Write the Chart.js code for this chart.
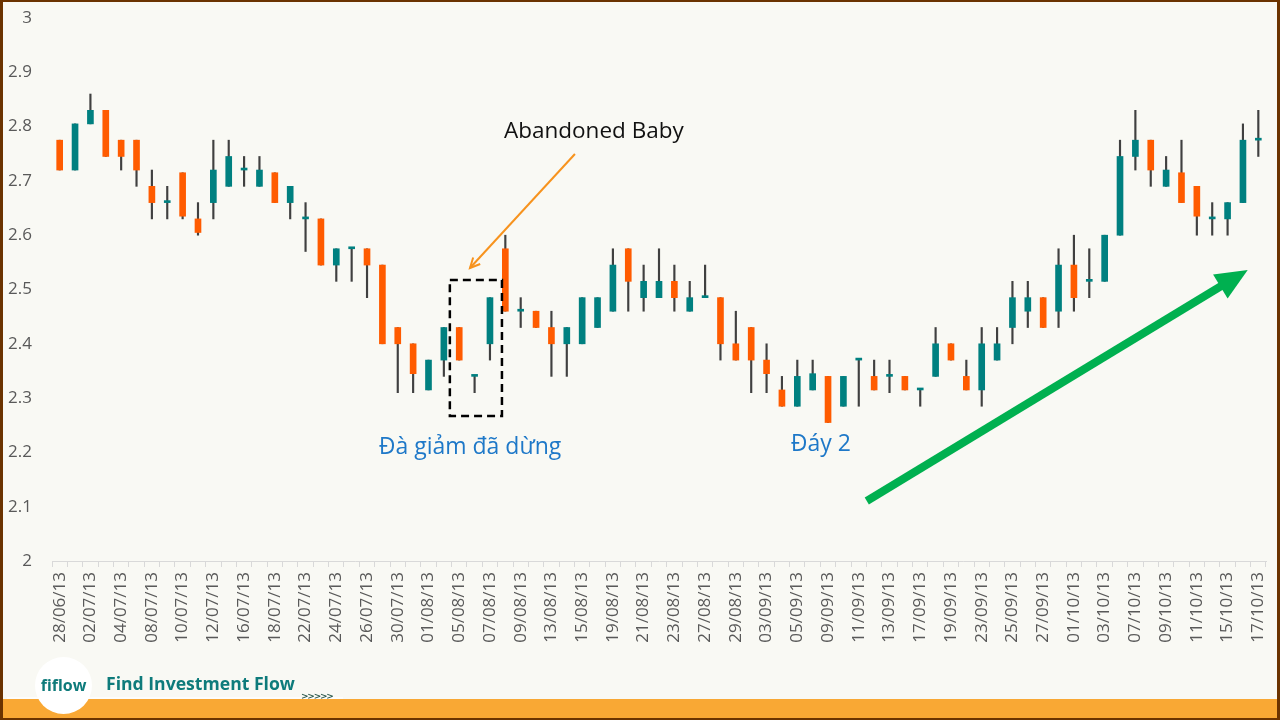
<!DOCTYPE html>
<html><head><meta charset="utf-8">
<script src="https://cdn.jsdelivr.net/npm/chart.js@4/dist/chart.umd.min.js"></script>
<style>
html,body{margin:0;padding:0;background:#F9F9F4;width:1280px;height:720px;overflow:hidden;}
#frame{position:absolute;left:0;top:0;width:1280px;height:720px;box-sizing:border-box;border:3px solid #6B3300;border-top-width:2px;border-bottom-width:2px;background:#F9F9F4;}
#c{position:absolute;left:0;top:0;}
#band{position:absolute;left:3px;right:3px;top:699px;height:19px;background:#F9A834;}
#pale{position:absolute;left:7px;width:336px;top:697px;height:2px;background:#ffffff;opacity:.7;}
#logo{position:absolute;left:35px;top:657px;width:57px;height:57px;border-radius:50%;background:#ffffff;display:flex;align-items:center;justify-content:center;font-family:"Open Sans",sans-serif;font-weight:700;font-size:16px;color:#0E7B7B;}
#logo span{position:relative;top:-1px;}
#brand{position:absolute;left:106px;top:671px;font-family:"Open Sans",sans-serif;font-weight:700;font-size:17.6px;color:#0E7B7B;white-space:nowrap;}
#chev{position:absolute;left:301px;top:691px;font-family:"DejaVu Sans",sans-serif;font-weight:700;font-size:9px;letter-spacing:-1.2px;color:#2E5B4F;}
</style></head>
<body>
<div id="frame"></div>
<canvas id="c" width="1280" height="720"></canvas>
<div id="pale"></div>
<div id="band"></div>
<div id="logo"><span>fiflow</span></div>
<div id="brand">Find Investment Flow</div>
<div id="chev">&gt;&gt;&gt;&gt;&gt;</div>
<script>
const dates = ["28/06/13","01/07/13","02/07/13","03/07/13","04/07/13","05/07/13","08/07/13","09/07/13","10/07/13","11/07/13",
"12/07/13","15/07/13","16/07/13","17/07/13","18/07/13","19/07/13","22/07/13","23/07/13","24/07/13","25/07/13",
"26/07/13","29/07/13","30/07/13","31/07/13","01/08/13","02/08/13","05/08/13","06/08/13","07/08/13","08/08/13",
"09/08/13","12/08/13","13/08/13","14/08/13","15/08/13","16/08/13","19/08/13","20/08/13","21/08/13","22/08/13",
"23/08/13","26/08/13","27/08/13","28/08/13","29/08/13","30/08/13","03/09/13","04/09/13","05/09/13","06/09/13",
"09/09/13","10/09/13","11/09/13","12/09/13","13/09/13","16/09/13","17/09/13","18/09/13","19/09/13","20/09/13",
"23/09/13","24/09/13","25/09/13","26/09/13","27/09/13","30/09/13","01/10/13","02/10/13","03/10/13","04/10/13",
"07/10/13","08/10/13","09/10/13","10/10/13","11/10/13","14/10/13","15/10/13","16/10/13","17/10/13"];

const openP  = [2.775,2.72,2.805,2.83,2.775,2.775,2.69,2.66,2.715,2.63,
2.66,2.69,2.72,2.69,2.715,2.66,2.63,2.63,2.545,2.575,
2.575,2.545,2.43,2.40,2.315,2.37,2.43,2.34,2.40,2.575,
2.46,2.46,2.43,2.40,2.40,2.43,2.46,2.575,2.485,2.485,
2.515,2.46,2.485,2.485,2.40,2.43,2.37,2.315,2.285,2.315,
2.34,2.285,2.37,2.34,2.34,2.34,2.315,2.34,2.40,2.34,
2.315,2.37,2.43,2.46,2.485,2.46,2.545,2.515,2.515,2.60,
2.745,2.775,2.69,2.715,2.69,2.63,2.63,2.66,2.775];
const highP  = [2.775,2.805,2.86,2.83,2.775,2.775,2.72,2.69,2.715,2.66,
2.775,2.775,2.745,2.745,2.715,2.69,2.66,2.63,2.575,2.575,
2.575,2.545,2.43,2.40,2.37,2.43,2.43,2.34,2.485,2.60,
2.485,2.46,2.46,2.43,2.485,2.485,2.575,2.575,2.545,2.575,
2.545,2.515,2.545,2.485,2.46,2.43,2.40,2.34,2.37,2.37,
2.34,2.34,2.37,2.37,2.37,2.34,2.315,2.43,2.40,2.37,
2.43,2.43,2.515,2.515,2.485,2.575,2.60,2.575,2.60,2.775,
2.83,2.775,2.745,2.775,2.69,2.66,2.66,2.805,2.83];
const lowP   = [2.72,2.72,2.805,2.745,2.72,2.69,2.63,2.63,2.63,2.60,
2.63,2.69,2.69,2.69,2.66,2.63,2.57,2.545,2.515,2.515,
2.485,2.40,2.31,2.31,2.315,2.34,2.37,2.31,2.37,2.46,
2.43,2.43,2.34,2.34,2.40,2.43,2.46,2.46,2.46,2.485,
2.46,2.46,2.485,2.37,2.37,2.31,2.31,2.285,2.285,2.315,
2.255,2.285,2.285,2.315,2.31,2.315,2.285,2.34,2.37,2.315,
2.285,2.37,2.40,2.43,2.43,2.43,2.46,2.485,2.515,2.60,
2.72,2.69,2.69,2.66,2.60,2.60,2.60,2.66,2.745];
const closeP = [2.72,2.805,2.83,2.745,2.745,2.72,2.66,2.66,2.635,2.605,
2.72,2.745,2.72,2.72,2.66,2.69,2.63,2.545,2.575,2.575,
2.545,2.40,2.40,2.345,2.37,2.43,2.37,2.34,2.485,2.46,
2.46,2.43,2.40,2.43,2.485,2.485,2.545,2.515,2.515,2.515,
2.485,2.485,2.485,2.40,2.37,2.37,2.345,2.285,2.34,2.345,
2.255,2.34,2.37,2.315,2.34,2.315,2.315,2.40,2.37,2.315,
2.40,2.40,2.485,2.485,2.43,2.545,2.485,2.515,2.60,2.745,
2.775,2.72,2.72,2.66,2.635,2.63,2.66,2.775,2.775];

const yTicks = {min:2, max:3, step:0.1};
const UP = '#008080', DOWN = '#FF5B00', WICK = '#404040';

const bodies = openP.map((o,i)=>[o, closeP[i]]);
const wicks = lowP.map((l,i)=>[l, highP[i]]);
const bodyColors = openP.map((o,i)=> closeP[i] < o ? DOWN : UP);

const annot = {
  id:'annot',
  afterDatasetsDraw(chart){
    const {ctx, scales:{x,y}} = chart;
    const P = (i,v)=>[x.getPixelForValue(i), y.getPixelForValue(v)];
    ctx.save();
    // dashed box
    const [bx1,by1] = P(25.39, 2.5175), [bx2,by2] = P(28.78, 2.267);
    ctx.strokeStyle = '#000'; ctx.lineWidth = 2.5; ctx.setLineDash([8,5]);
    ctx.strokeRect(bx1, by1, bx2-bx1, by2-by1);
    ctx.setLineDash([]);
    // orange arrow
    const [ax1,ay1] = P(33.53, 2.7495), [ax2,ay2] = P(26.7, 2.5396);
    ctx.strokeStyle = '#F7931E'; ctx.lineWidth = 2;
    ctx.beginPath(); ctx.moveTo(ax1,ay1); ctx.lineTo(ax2,ay2); ctx.stroke();
    let ang = Math.atan2(ay2-ay1, ax2-ax1);
    ctx.beginPath();
    ctx.moveTo(ax2 - 11*Math.cos(ang-0.45), ay2 - 11*Math.sin(ang-0.45));
    ctx.lineTo(ax2, ay2);
    ctx.lineTo(ax2 - 11*Math.cos(ang+0.45), ay2 - 11*Math.sin(ang+0.45));
    ctx.stroke();
    // green arrow
    const [gx1,gy1] = P(52.52, 2.1105), [gx2,gy2] = P(77.31, 2.536);
    ang = Math.atan2(gy2-gy1, gx2-gx1);
    const hl = 32, hw = 14;
    const bxm = gx2 - hl*Math.cos(ang), bym = gy2 - hl*Math.sin(ang);
    ctx.strokeStyle = '#00B050'; ctx.fillStyle = '#00B050'; ctx.lineWidth = 8;
    ctx.beginPath(); ctx.moveTo(gx1,gy1); ctx.lineTo(bxm + 2*Math.cos(ang), bym + 2*Math.sin(ang)); ctx.stroke();
    ctx.beginPath();
    ctx.moveTo(gx2,gy2);
    ctx.lineTo(bxm + hw*Math.sin(ang), bym - hw*Math.cos(ang));
    ctx.lineTo(bxm - hw*Math.sin(ang), bym + hw*Math.cos(ang));
    ctx.closePath(); ctx.fill();
    // texts
    ctx.textAlign = 'center'; ctx.textBaseline = 'middle';
    ctx.font = '22.5px "Open Sans", sans-serif';
    ctx.fillStyle = '#111111';
    let [tx,ty] = P(34.76, 2.791); ctx.fillText('Abandoned Baby', tx, ty);
    ctx.font = '23px "Open Sans", sans-serif';
    ctx.fillStyle = '#1E78C8';
    [tx,ty] = P(26.7, 2.21); ctx.fillText('Đà giảm đã dừng', tx, ty);
    [tx,ty] = P(49.53, 2.2155); ctx.fillText('Đáy 2', tx, ty);
    ctx.restore();
  }
};

new Chart(document.getElementById('c'), {
  type:'bar',
  data:{
    labels: dates,
    datasets:[
      {label:'body', data: bodies, backgroundColor: bodyColors, barThickness: 6, minBarLength: 2, grouped:false, order:0, borderWidth:0},
      {label:'wick', data: wicks, backgroundColor: WICK, barThickness: 1.5, grouped:false, order:1, borderWidth:0}
    ]
  },
  options:{
    responsive:false, animation:false, devicePixelRatio:1,
    layout:{padding:{left:0, top:18, right:14, bottom:49}},
    plugins:{legend:{display:false}, tooltip:{enabled:false}},
    scales:{
      x:{
        offset:true,
        grid:{display:true, drawOnChartArea:false, drawTicks:true, tickLength:6, color:'#D9D9D9', offset:true},
        border:{display:true, color:'#D9D9D9'},
        ticks:{autoSkip:false, maxRotation:90, minRotation:90, padding:5, color:'#595959',
          font:{family:'"Open Sans", sans-serif', size:17},
          callback:(v,i)=> i%2===0 ? dates[i] : ''},
        afterFit:(s)=>{ s.height = 110; s.paddingLeft = 0; s.paddingRight = 0; }
      },
      y:{
        min:yTicks.min, max:yTicks.max,
        grid:{display:false, drawTicks:false}, border:{display:false},
        ticks:{stepSize:yTicks.step, padding:20, color:'#595959', font:{family:'"Open Sans", sans-serif', size:17},
          callback:(v)=> String(Number(v.toFixed(1)))},
        afterFit:(s)=>{ s.width = 52; s.paddingTop = 0; s.paddingBottom = 0; }
      }
    }
  },
  plugins:[annot]
});
</script>
</body></html>
